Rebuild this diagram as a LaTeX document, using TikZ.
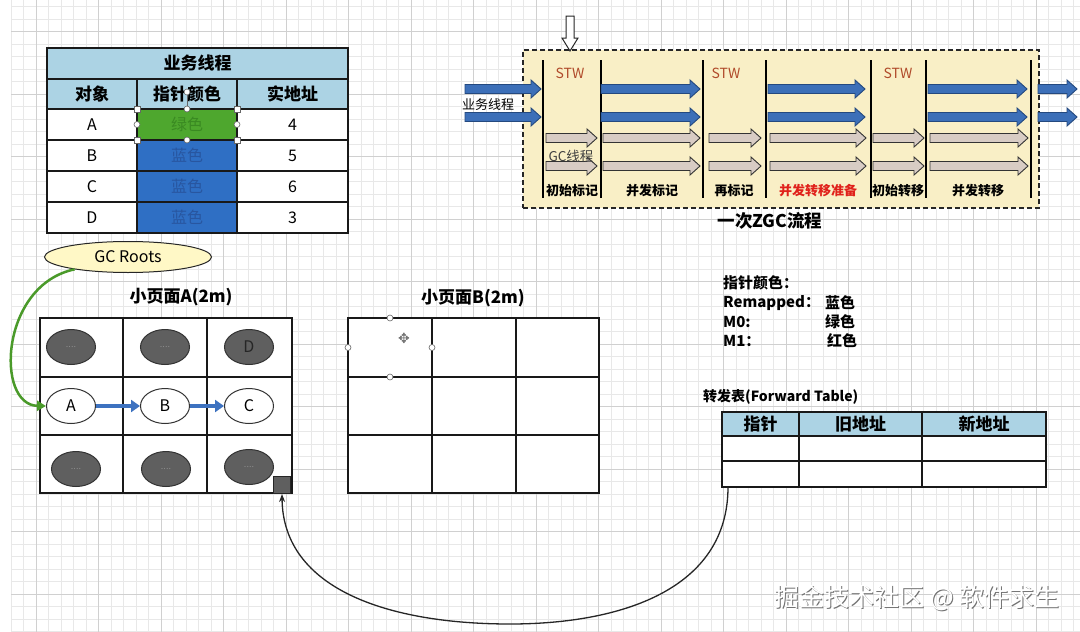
\documentclass[tikz,border=0pt]{standalone}
\usepackage{fontspec}
\setmainfont{Noto Sans CJK SC}
\newfontfamily\symfont{DejaVu Sans}
\usetikzlibrary{shapes.geometric,arrows.meta,calc}
\definecolor{hdr}{HTML}{ACD3E4}
\definecolor{grn}{HTML}{4EA72E}
\definecolor{grntxt}{HTML}{3A8A22}
\definecolor{blu}{HTML}{2F6FC4}
\definecolor{blutxt}{HTML}{2856A0}
\definecolor{zgcbg}{HTML}{F9EFC6}
\definecolor{gcy}{HTML}{FFF8C6}
\definecolor{objdark}{HTML}{5F5F5F}
\definecolor{barfill}{HTML}{3C6FB8}
\definecolor{barline}{HTML}{24497F}
\definecolor{beige}{HTML}{D8CCC4}
\definecolor{stw}{HTML}{B04A2A}
\definecolor{redtxt}{HTML}{E0211B}
\definecolor{gminor}{HTML}{E8E8E8}
\definecolor{gmajor}{HTML}{D0D0D0}
\definecolor{linkblue}{HTML}{3D72C0}
\definecolor{rootgreen}{HTML}{4A9A2A}
\tikzset{
  tc/.style={draw=black!90, line width=1.4, inner sep=0, outer sep=0, font=\fontsize{16}{18}\selectfont},
  hd/.style={tc, fill=hdr, font=\bfseries\fontsize{17}{19}\selectfont},
  pc/.style={draw=black!90, line width=1.6, fill=white, inner sep=0, outer sep=0},
  obj/.style={ellipse, draw=black!80, line width=1, minimum width=49, minimum height=35, inner sep=0},
  darkobj/.style={obj, fill=objdark, text=black!45, font=\fontsize{9}{10}\selectfont},
  whiteobj/.style={obj, fill=white, font=\fontsize{16}{18}\selectfont},
  handle/.style={circle, draw=black!60, fill=white, line width=0.6, inner sep=0, minimum size=6},
  sqhandle/.style={rectangle, draw=black!60, fill=white, line width=0.6, inner sep=0, minimum size=6},
  lbl/.style={font=\bfseries\fontsize{15}{17}\selectfont, inner sep=0, anchor=west},
  phase/.style={font=\bfseries\fontsize{13}{15}\selectfont, inner sep=0},
  stwlbl/.style={text=stw, font=\fontsize{14}{16}\selectfont, inner sep=0},
  vline/.style={line width=1.3, black},
}
\newcommand\tcell[7]{\node[#6, minimum width={#4-#2}, minimum height={#5-#3}] (#1) at ({(#2+#4)/2},{(#3+#5)/2}) {#7};}
\newcommand\barrow[4]{\filldraw[#4, line width=0.9] (#1,#3-4.5) -- (#2-10,#3-4.5) -- (#2-10,#3-9) -- (#2,#3) -- (#2-10,#3+9) -- (#2-10,#3+4.5) -- (#1,#3+4.5) -- cycle;}
\begin{document}
\begin{tikzpicture}[x=1pt,y=-1pt]
\useasboundingbox (0,0) rectangle (1080,632);
\fill[white] (0,0) rectangle (1080,632);
% grid
\foreach \i in {0,...,85} {\draw[gminor, line width=0.5] ({11+12.5*\i},0) -- ({11+12.5*\i},632);}
\foreach \i in {0,...,50} {\draw[gminor, line width=0.5] (11,{6.7+12.5*\i}) -- (1080,{6.7+12.5*\i});}
\foreach \i in {0,...,16} {\draw[gmajor, line width=0.6] ({36+62.5*\i},0) -- ({36+62.5*\i},632);}
\foreach \i in {0,...,10} {\draw[gmajor, line width=0.6] (11,{31.7+62.5*\i}) -- (1080,{31.7+62.5*\i});}

% ===== business thread table =====
\tcell{tt}{47}{48}{348}{79}{hd}{业务线程}
\tcell{h1}{47}{79}{137}{109}{hd}{对象}
\tcell{h2}{137}{79}{237}{109}{hd}{指针颜色}
\tcell{h3}{237}{79}{348}{109}{hd}{实地址}
\tcell{a1}{47}{109}{137}{140}{tc,fill=white}{A}
\tcell{a2}{137}{109}{237}{140}{tc,fill=grn,text=grntxt}{绿色}
\tcell{a3}{237}{109}{348}{140}{tc,fill=white}{4}
\tcell{b1}{47}{140}{137}{171}{tc,fill=white}{B}
\tcell{b2}{137}{140}{237}{171}{tc,fill=blu,text=blutxt}{蓝色}
\tcell{b3}{237}{140}{348}{171}{tc,fill=white}{5}
\tcell{c1}{47}{171}{137}{202}{tc,fill=white}{C}
\tcell{c2}{137}{171}{237}{202}{tc,fill=blu,text=blutxt}{蓝色}
\tcell{c3}{237}{171}{348}{202}{tc,fill=white}{6}
\tcell{d1}{47}{202}{137}{233}{tc,fill=white}{D}
\tcell{d2}{137}{202}{237}{233}{tc,fill=blu,text=blutxt}{蓝色}
\tcell{d3}{237}{202}{348}{233}{tc,fill=white}{3}
% selection handles on green cell
\draw[black!60, line width=0.6] (a2.north) -- (187,92);
\node[handle] (hr) at (187,92) {};
\foreach \a/\n in {north west/s1, north east/s2, south west/s3, south east/s4} {\node[sqhandle] (\n) at (a2.\a) {};}
\foreach \a/\n in {north/m1, south/m2, west/m3, east/m4} {\node[handle] (\n) at (a2.\a) {};}

% ===== GC Roots =====
\node[ellipse, draw=black!85, fill=gcy, line width=1, minimum width=167, minimum height=31, inner sep=0, font=\fontsize{16}{18}\selectfont] (gc) at (128,257) {GC Roots};

% ===== page A =====
\node[font=\bfseries\fontsize{17}{19}\selectfont] (ta) at (181,297) {小页面A(2m)};
\tcell{pa11}{40}{318}{123}{377}{pc}{}
\tcell{pa12}{123}{318}{207}{377}{pc}{}
\tcell{pa13}{207}{318}{292}{377}{pc}{}
\tcell{pa21}{40}{377}{123}{435}{pc}{}
\tcell{pa22}{123}{377}{207}{435}{pc}{}
\tcell{pa23}{207}{377}{292}{435}{pc}{}
\tcell{pa31}{40}{435}{123}{493}{pc}{}
\tcell{pa32}{123}{435}{207}{493}{pc}{}
\tcell{pa33}{207}{435}{292}{493}{pc}{}
\node[darkobj] (o1) at (71,347) {....};
\node[darkobj] (o2) at (165,347) {....};
\node[darkobj, text=black!85, font=\fontsize{16}{18}\selectfont] (oD) at (249,347) {D};
\node[whiteobj] (oA) at (71,406) {A};
\node[whiteobj] (oB) at (165,406) {B};
\node[whiteobj] (oC) at (249,406) {C};
\node[darkobj] (o7) at (76,469) {....};
\node[darkobj] (o8) at (166,469) {....};
\node[darkobj] (o9) at (249,467) {....};
\node[rectangle, draw=black!85, fill=objdark, line width=1, minimum size=17, inner sep=0] (sq) at (282,485) {};
\draw[linkblue, line width=3.5, -{Triangle[length=9,width=12]}] (oA) -- (oB);
\draw[linkblue, line width=3.5, -{Triangle[length=9,width=12]}] (oB) -- (oC);
\draw[rootgreen, line width=2.5, -{Triangle[length=9,width=10]}] (gc.193) .. controls (0,285) and (-5,405) .. (oA.west);

% ===== page B =====
\node[font=\bfseries\fontsize{17}{19}\selectfont] (tb) at (473,298) {小页面B(2m)};
\tcell{pb11}{348}{318}{432}{377}{pc}{}
\tcell{pb12}{432}{318}{516}{377}{pc}{}
\tcell{pb13}{516}{318}{599}{377}{pc}{}
\tcell{pb21}{348}{377}{432}{435}{pc}{}
\tcell{pb22}{432}{377}{516}{435}{pc}{}
\tcell{pb23}{516}{377}{599}{435}{pc}{}
\tcell{pb31}{348}{435}{432}{493}{pc}{}
\tcell{pb32}{432}{435}{516}{493}{pc}{}
\tcell{pb33}{516}{435}{599}{493}{pc}{}
\foreach \a/\n in {north/k1, south/k2, west/k3, east/k4} {\node[handle] (\n) at (pb11.\a) {};}
\node[text=black!55, font=\symfont\fontsize{14}{15}\selectfont, inner sep=0] (mv) at (404,338) {✥};

% ===== pointer colour legend =====
\node[lbl] (l0) at (723,283) {指针颜色：};
\node[lbl] (l1) at (723,303) {Remapped：};
\node[lbl] (l2) at (723,322) {M0:};
\node[lbl] (l3) at (723,341) {M1：};
\node[lbl] (c1t) at (825,303) {蓝色};
\node[lbl] (c2t) at (825,322) {绿色};
\node[lbl] (c3t) at (827,341) {红色};

% ===== forward table =====
\node[font=\bfseries\fontsize{14}{16}\selectfont, inner sep=0, anchor=west] (ft) at (703,397) {转发表(Forward Table)};
\tcell{f1}{722}{412}{799}{436}{hd}{指针}
\tcell{f2}{799}{412}{922}{436}{hd}{旧地址}
\tcell{f3}{922}{412}{1046}{436}{hd}{新地址}
\tcell{f4}{722}{436}{799}{461}{tc,fill=white}{}
\tcell{f5}{799}{436}{922}{461}{tc,fill=white}{}
\tcell{f6}{922}{436}{1046}{461}{tc,fill=white}{}
\tcell{f7}{722}{461}{799}{487}{tc,fill=white}{}
\tcell{f8}{799}{461}{922}{487}{tc,fill=white}{}
\tcell{f9}{922}{461}{1046}{487}{tc,fill=white}{}
\coordinate (fstart) at ($(f7.south west)+(6,0)$);
\draw[black!85, line width=1.3, -{Stealth[length=8,width=6]}] (fstart) .. controls (728,590) and (620,624) .. (510,624) .. controls (390,624) and (283,590) .. (sq.south);

% ===== ZGC flow =====
\node[draw=black!85, dashed, dash pattern=on 5pt off 3pt, line width=1.3, fill=zgcbg, minimum width=516, minimum height=158, inner sep=0] (zgc) at (781,129) {};
\foreach \x in {543,601,703,766,871,926,1031} {\draw[vline] (\x,60) -- (\x,198);}
\node[stwlbl] (s1) at (570,73) {STW};
\node[stwlbl] (s2) at (726,73) {STW};
\node[stwlbl] (s3) at (898,73) {STW};
\foreach \y in {89,117} {
  \barrow{465}{541}{\y}{fill=barfill, draw=barline}
  \barrow{601}{700}{\y}{fill=barfill, draw=barline}
  \barrow{768}{865}{\y}{fill=barfill, draw=barline}
  \barrow{928}{1027}{\y}{fill=barfill, draw=barline}
  \barrow{1038}{1077}{\y}{fill=barfill, draw=barline}
}
\foreach \y in {138,166} {
  \barrow{546}{597}{\y}{fill=beige, draw=black!80}
  \barrow{603}{700}{\y}{fill=beige, draw=black!80}
  \barrow{709}{761}{\y}{fill=beige, draw=black!80}
  \barrow{770}{866}{\y}{fill=beige, draw=black!80}
  \barrow{873}{924}{\y}{fill=beige, draw=black!80}
  \barrow{930}{1028}{\y}{fill=beige, draw=black!80}
}
\node[font=\fontsize{13}{15}\selectfont, inner sep=0] (bt) at (488,105) {业务线程};
\node[text=black!75, font=\fontsize{13.5}{15}\selectfont, inner sep=0] (gt) at (571,156) {GC线程};
\node[phase] (p1) at (572,191) {初始标记};
\node[phase] (p2) at (652,191) {并发标记};
\node[phase] (p3) at (734,191) {再标记};
\node[phase, text=redtxt] (p4) at (818,191) {并发转移准备};
\node[phase] (p5) at (898,191) {初始转移};
\node[phase] (p6) at (978,191) {并发转移};
\filldraw[fill=white, draw=black!85, line width=1] (566,16) -- (574,16) -- (574,38) -- (578,38) -- (570,51) -- (562,38) -- (566,38) -- cycle;
\node[font=\bfseries\fontsize{17.5}{19}\selectfont, inner sep=0] (zt) at (770,221) {一次ZGC流程};

% ===== watermark =====
\node[text=black!55, font=\fontsize{25}{27}\selectfont, inner sep=0] (wm0) at (918.2,599.2) {掘金技术社区 @ 软件求生};
\node[text=white, font=\fontsize{25}{27}\selectfont, inner sep=0] (wm) at (917,598) {掘金技术社区 @ 软件求生};
\end{tikzpicture}
\end{document}
